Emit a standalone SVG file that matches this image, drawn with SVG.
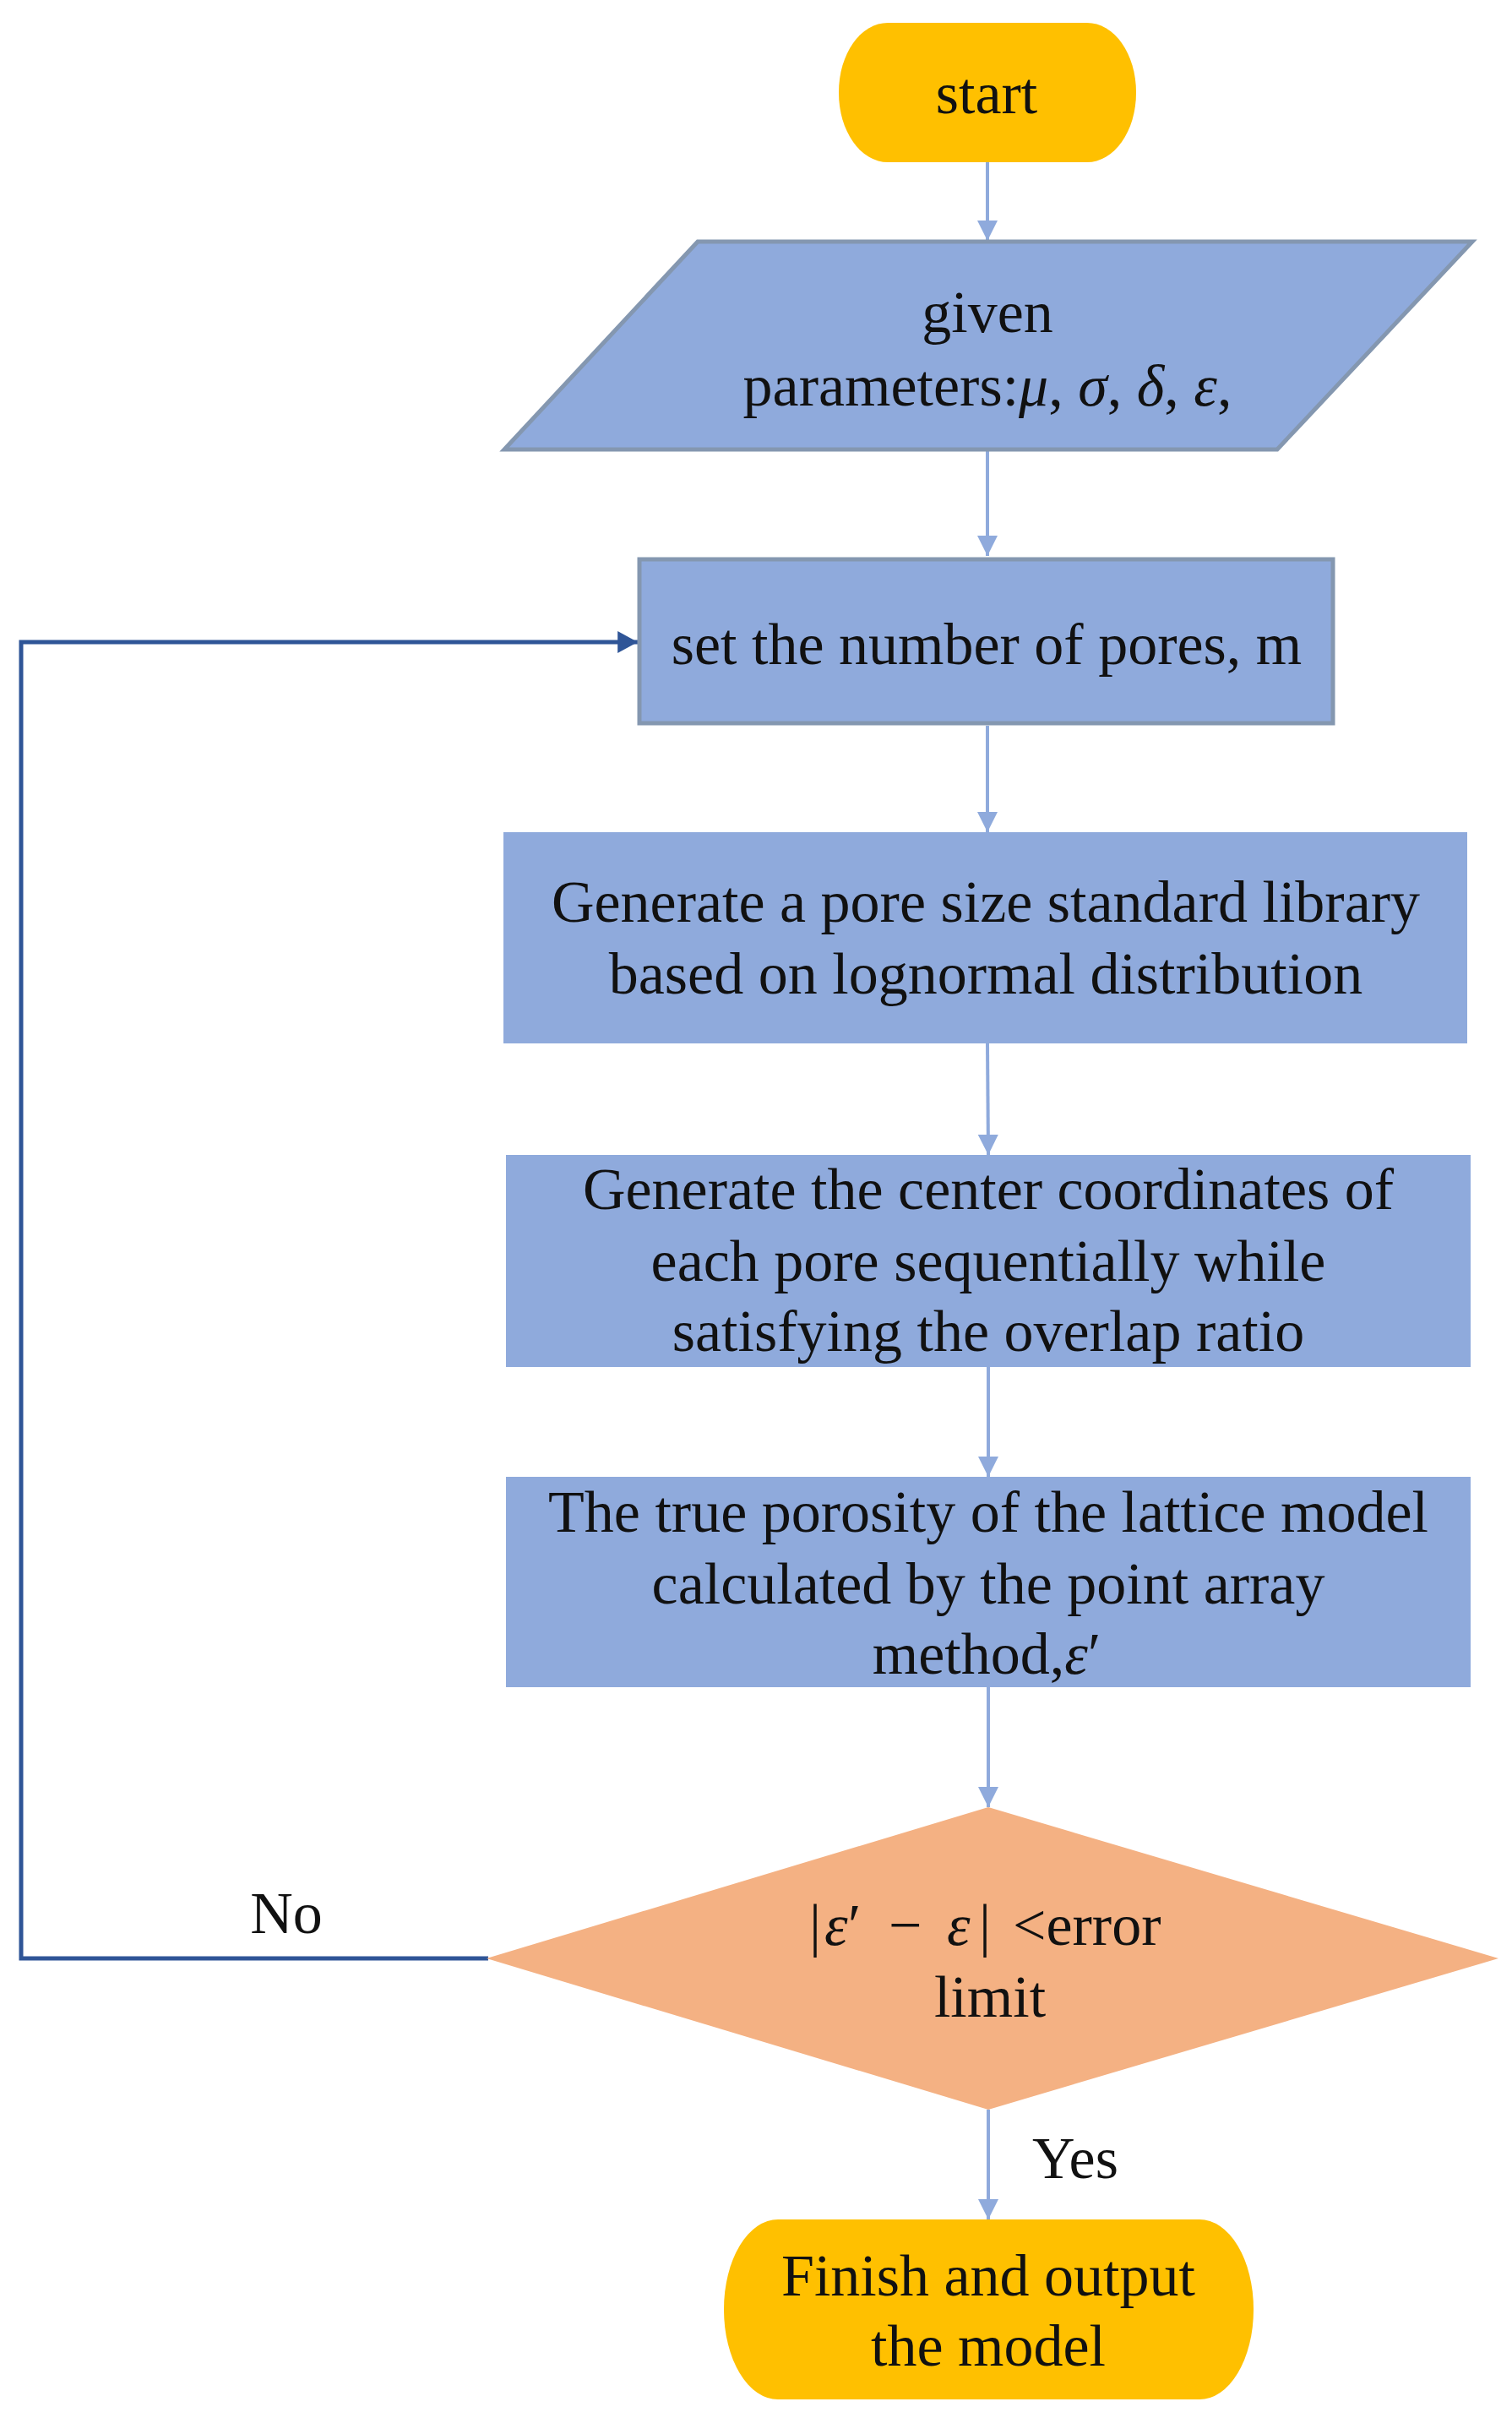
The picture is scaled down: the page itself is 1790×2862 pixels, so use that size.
<svg xmlns="http://www.w3.org/2000/svg" width="1790" height="2862" viewBox="0 0 1790 2862">
<defs>
<style>
text{font-family:"Liberation Serif","Times New Roman",serif;font-size:70px;fill:#111;}
.c{text-anchor:middle;}
.i{font-style:italic;}
.term{fill:#FFC000;}
.box{fill:#8FAADC;}
.boxs{fill:#8FAADC;stroke:#8497B0;stroke-width:5;}
.dec{fill:#F4B183;}
.flow{fill:none;stroke:#8FAADC;stroke-width:4;}
.back{fill:none;stroke:#2F5597;stroke-width:5;}
</style>
<marker id="ah" markerUnits="userSpaceOnUse" markerWidth="24" markerHeight="24" viewBox="0 0 22 22" refX="22" refY="11" orient="auto">
<path d="M0,0 L22,11 L0,22 Z" fill="#8FAADC"/>
</marker>
<marker id="ahb" markerUnits="userSpaceOnUse" markerWidth="24" markerHeight="26" viewBox="0 0 22 24" refX="22" refY="12" orient="auto">
<path d="M0,0 L22,12 L0,24 Z" fill="#2F5597"/>
</marker>
</defs>
<rect width="1790" height="2862" fill="#fff"/>

<g id="connectors">
<line class="flow" x1="1169" y1="192" x2="1169" y2="285" marker-end="url(#ah)"/>
<line class="flow" x1="1169" y1="534" x2="1169" y2="658" marker-end="url(#ah)"/>
<line class="flow" x1="1169" y1="859" x2="1169" y2="985" marker-end="url(#ah)"/>
<line class="flow" x1="1169" y1="1235" x2="1170" y2="1367" marker-end="url(#ah)"/>
<line class="flow" x1="1170" y1="1618" x2="1170" y2="1748" marker-end="url(#ah)"/>
<line class="flow" x1="1170" y1="1997" x2="1170" y2="2139" marker-end="url(#ah)"/>
<line class="flow" x1="1170" y1="2497" x2="1170" y2="2627" marker-end="url(#ah)"/>
<polyline class="back" points="578,2318 25,2318 25,760 755,760" marker-end="url(#ahb)"/>
<text x="339" y="2288" class="c">No</text>
<text x="1273" y="2578" class="c">Yes</text>
</g>

<g id="start">
<rect class="term" x="993" y="27" width="352" height="165" rx="58" ry="82"/>
<text x="1168" y="134" class="c">start</text>
</g>

<g id="input">
<polygon class="boxs" points="826,286 1743,286 1512,532 597,532"/>
<text x="1169" y="393" class="c">given</text>
<text x="1169" y="480" class="c">parameters:<tspan class="i">μ</tspan>, <tspan class="i">σ</tspan>, <tspan class="i">δ</tspan>, <tspan class="i">ε</tspan>,</text>
</g>

<g id="set-pores">
<rect class="boxs" x="757" y="662" width="821" height="194"/>
<text x="1168" y="786" class="c">set the number of pores, m</text>
</g>

<g id="library">
<rect class="box" x="596" y="985" width="1141" height="250"/>
<text x="1167" y="1091" class="c">Generate a pore size standard library</text>
<text x="1167" y="1176" class="c">based on lognormal distribution</text>
</g>

<g id="centers">
<rect class="box" x="599" y="1367" width="1142" height="251"/>
<text x="1170" y="1431" class="c">Generate the center coordinates of</text>
<text x="1170" y="1516" class="c">each pore sequentially while</text>
<text x="1170" y="1599" class="c">satisfying the overlap ratio</text>
</g>

<g id="porosity">
<rect class="box" x="599" y="1748" width="1142" height="249"/>
<text x="1170" y="1813" class="c">The true porosity of the lattice model</text>
<text x="1170" y="1898" class="c">calculated by the point array</text>
<text x="1168" y="1981" class="c">method,<tspan class="i">ε</tspan>′</text>
</g>

<g id="decision">
<polygon class="dec" points="1170,2139 1774,2318 1170,2497 576,2318"/>
<text y="2302"><tspan x="958">|</tspan><tspan x="976" class="i">ε</tspan><tspan x="1004">′</tspan><tspan x="1052">−</tspan><tspan x="1121" class="i">ε</tspan><tspan x="1159">|</tspan><tspan x="1199">&lt;error</tspan></text>
<text x="1172" y="2387" class="c">limit</text>
</g>

<g id="finish">
<rect class="term" x="857" y="2627" width="627" height="213" rx="64" ry="106"/>
<text x="1170" y="2717" class="c">Finish and output</text>
<text x="1170" y="2800" class="c">the model</text>
</g>
</svg>
